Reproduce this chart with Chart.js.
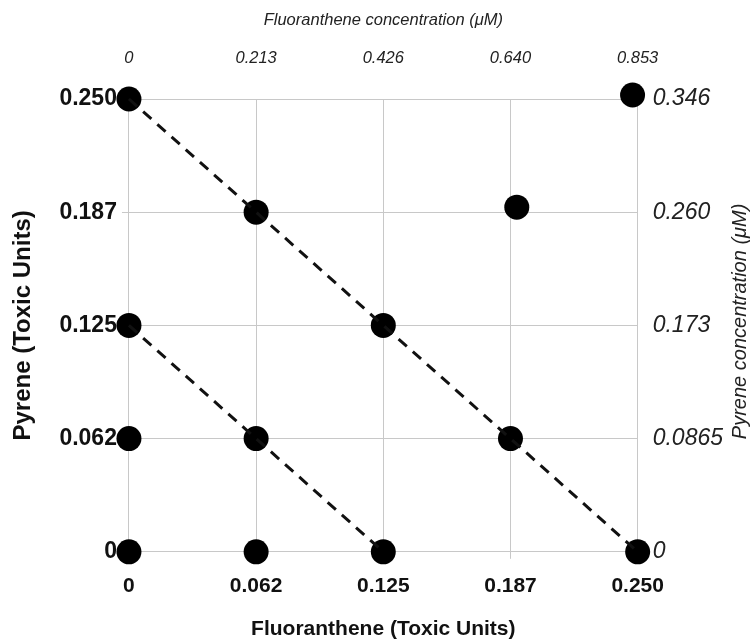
<!DOCTYPE html>
<html>
<head>
<meta charset="utf-8">
<script src="https://cdn.jsdelivr.net/npm/chart.js@4"></script>
<style>
  html, body { margin: 0; padding: 0; background: #fff; }
  #wrap { width: 755px; height: 643px; }
</style>
</head>
<body>
<div id="wrap"><canvas id="grafico" width="755" height="643"></canvas></div>
<script>
// valores em unidades tóxicas (TU)
const TICKS_TU      = [0, 0.0625, 0.125, 0.1875, 0.25];
const ROTULOS_TU    = ["0", "0.062", "0.125", "0.187", "0.250"];
const ROTULOS_FLUOR = ["0", "0.213", "0.426", "0.640", "0.853"];   // μM, eixo de cima
const ROTULOS_PIR   = ["0", "0.0865", "0.173", "0.260", "0.346"];  // μM, eixo da direita

// pontos do desenho experimental
const fluorTU  = [0, 0.0625, 0.125, 0.1875, 0.25, 0, 0.0625, 0.125, 0, 0, 0.0625, 0.1906, 0.2475];
const pireneTU = [0.25, 0.1875, 0.125, 0.0625, 0, 0.125, 0.0625, 0, 0.0625, 0, 0, 0.1903, 0.2522];

// isobolas tracejadas
const isobola1 = [[0, 0.25], [0.25, 0]];
const isobola2 = [[0, 0.125], [0.125, 0]];

const FONTE = "'Liberation Sans', Arial, sans-serif";
const COR_GRID = "#c8c8c8";

const pontos = fluorTU.map((x, i) => ({ x, y: pireneTU[i] }));
const linha  = arr => arr.map(([x, y]) => ({ x, y }));

function fixarTicks(scale) {
    scale.ticks = TICKS_TU.map(v => ({ value: v }));
}

// título da direita lido de baixo para cima
const tituloDireita = {
    id: "tituloDireita",
    afterDraw(chart) {
        const { ctx, chartArea } = chart;
        ctx.save();
        ctx.translate(740, (chartArea.top + chartArea.bottom) / 2 - 4);
        ctx.rotate(-Math.PI / 2);
        ctx.font = "italic 20px " + FONTE;
        ctx.fillStyle = "#222";
        ctx.textAlign = "center";
        ctx.textBaseline = "middle";
        ctx.fillText("Pyrene concentration (μM)", 0, 0);
        ctx.restore();
    }
};

new Chart(document.getElementById("grafico"), {
    type: "scatter",
    data: {
        datasets: [
            {
                data: linha(isobola1),
                showLine: true,
                borderColor: "#111",
                borderWidth: 3,
                borderDash: [11, 8],
                pointRadius: 0,
                clip: false,
            },
            {
                data: linha(isobola2),
                showLine: true,
                borderColor: "#111",
                borderWidth: 3,
                borderDash: [11, 8],
                pointRadius: 0,
                clip: false,
            },
            {
                data: pontos,
                backgroundColor: "#000",
                borderWidth: 0,
                pointRadius: 12.5,
                clip: false,
            },
        ],
    },
    options: {
        responsive: false,
        animation: false,
        layout: { padding: { left: 8.6, right: 17, top: 0, bottom: 1 } },
        plugins: { legend: { display: false }, tooltip: { enabled: false } },
        scales: {
            x: {
                type: "linear", position: "bottom", min: 0, max: 0.25,
                afterBuildTicks: fixarTicks,
                ticks: {
                    callback: (v, i) => ROTULOS_TU[i],
                    font: { family: FONTE, size: 21, weight: "bold" },
                    color: "#111", padding: 15, maxRotation: 0,
                },
                grid: { color: COR_GRID, tickLength: 7 },
                border: { display: false },
                title: {
                    display: true, text: "Fluoranthene (Toxic Units)",
                    font: { family: FONTE, size: 21, weight: "bold" },
                    color: "#111", padding: { top: 2.8, bottom: 0 },
                },
            },
            x2: {
                type: "linear", position: "top", min: 0, max: 0.25,
                afterBuildTicks: fixarTicks,
                ticks: {
                    callback: (v, i) => ROTULOS_FLUOR[i],
                    font: { family: FONTE, size: 16.5, style: "italic" },
                    color: "#222", padding: 31, maxRotation: 0,
                },
                grid: { display: false, drawTicks: false },
                border: { display: false },
                title: {
                    display: true, text: "Fluoranthene concentration (μM)",
                    font: { family: FONTE, size: 16.5, style: "italic" },
                    color: "#222", padding: { top: 11, bottom: -13.6 },
                },
            },
            y: {
                type: "linear", position: "left", min: 0, max: 0.25,
                afterBuildTicks: fixarTicks,
                ticks: {
                    callback: (v, i) => ROTULOS_TU[i],
                    font: { family: FONTE, size: 23, weight: "bold" },
                    color: "#111", padding: 5,
                },
                grid: { color: COR_GRID, tickLength: 7 },
                border: { display: false },
                title: {
                    display: true, text: "Pyrene (Toxic Units)",
                    font: { family: FONTE, size: 24, weight: "bold" },
                    color: "#111", padding: { top: 0, bottom: 17 },
                },
            },
            y2: {
                type: "linear", position: "right", min: 0, max: 0.25,
                afterBuildTicks: fixarTicks,
                ticks: {
                    callback: (v, i) => ROTULOS_PIR[i],
                    font: { family: FONTE, size: 23, style: "italic" },
                    color: "#222", padding: 15,
                },
                grid: { display: false, drawTicks: false },
                border: { display: false },
            },
        },
    },
    plugins: [tituloDireita],
});
</script>
</body>
</html>
